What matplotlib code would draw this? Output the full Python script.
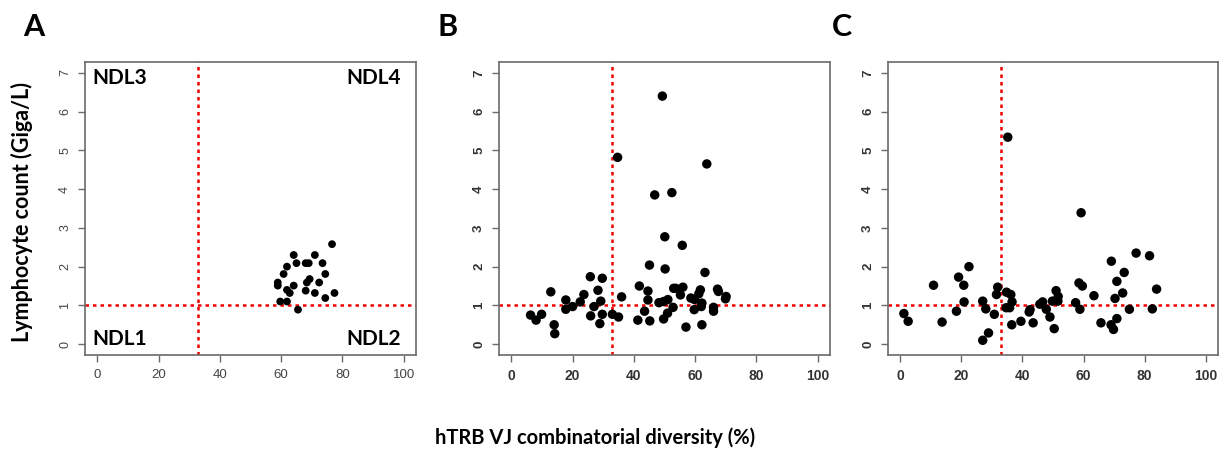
import matplotlib
matplotlib.use("Agg")
import matplotlib.pyplot as plt

# ---------------- data ----------------
a_x = [76.6, 64.1, 71.0, 61.9, 65.0, 68.0, 69.0, 73.5, 60.8, 74.4, 58.9, 58.9, 69.3,
       68.4, 64.1, 72.4, 61.9, 62.8, 68.0, 71.0, 77.4, 74.4, 59.7, 61.9, 65.5]
a_y = [2.58, 2.30, 2.30, 2.00, 2.09, 2.09, 2.09, 2.09, 1.81, 1.81, 1.59, 1.51, 1.68,
       1.59, 1.51, 1.59, 1.40, 1.32, 1.38, 1.32, 1.32, 1.19, 1.10, 1.10, 0.89]

b_x = [6.3, 8.1, 9.9, 12.9, 14.0, 14.2, 17.8, 17.8, 20.0, 22.5, 23.7, 25.8, 25.9, 27.0,
       28.3, 29.2, 29.7, 28.9, 29.7, 33.0, 34.7, 35.0, 36.0, 41.3, 41.8, 43.5, 44.6,
       44.6, 45.1, 45.2, 46.8, 48.2, 49.3, 49.7, 50.1, 50.2, 49.7, 51.1, 51.0, 52.4,
       52.8, 53.0, 53.7, 55.2, 55.8, 56.0, 57.0, 58.6, 59.8, 59.7, 61.2, 61.7, 62.2,
       62.0, 62.2, 63.2, 63.8, 66.0, 66.0, 67.3, 67.6, 70.1, 69.9]
b_y = [0.75, 0.62, 0.77, 1.35, 0.50, 0.27, 1.14, 0.90, 0.97, 1.09, 1.28, 1.74, 0.73, 0.97,
       1.39, 1.11, 1.70, 0.53, 0.77, 0.77, 4.82, 0.70, 1.22, 0.62, 1.50, 0.85, 1.37,
       1.14, 2.04, 0.60, 3.85, 1.07, 6.40, 0.65, 2.77, 1.94, 1.10, 1.15, 0.80, 3.91,
       0.95, 1.44, 1.44, 1.27, 2.55, 1.47, 0.44, 1.19, 1.15, 0.89, 1.30, 1.40, 1.06,
       0.97, 0.50, 1.85, 4.65, 0.95, 0.85, 1.42, 1.36, 1.23, 1.17]

c_x = [1.2, 2.6, 10.9, 13.7, 18.4, 19.1, 20.8, 20.9, 22.5, 27.0, 27.0, 28.0, 28.9, 30.8,
       31.5, 31.9, 35.2, 34.8, 34.7, 35.8, 36.2, 36.6, 36.5, 39.5, 42.2, 42.5, 43.5,
       45.7, 46.6, 47.8, 49.0, 49.8, 50.4, 51.0, 51.7, 51.6, 57.4, 58.5, 58.8, 59.6,
       59.2, 63.4, 65.7, 69.0, 69.1, 69.8, 70.3, 70.9, 70.9, 72.8, 73.3, 75.0, 77.2,
       81.6, 82.5, 83.9]
c_y = [0.79, 0.59, 1.52, 0.57, 0.85, 1.73, 1.52, 1.09, 2.00, 1.11, 0.10, 0.91, 0.29, 0.77,
       1.28, 1.47, 5.34, 1.34, 0.94, 0.94, 1.28, 1.09, 0.50, 0.59, 0.83, 0.89, 0.55,
       1.03, 1.09, 0.90, 0.70, 1.11, 0.40, 1.38, 1.23, 1.11, 1.07, 1.58, 0.90, 1.50,
       3.39, 1.25, 0.55, 0.50, 2.14, 0.38, 1.18, 1.62, 0.66, 1.32, 1.85, 0.90, 2.35,
       2.28, 0.91, 1.42]

x_ticks = [0, 20, 40, 60, 80, 100]
y_ticks = [0, 1, 2, 3, 4, 5, 6, 7]
x_threshold = 33
y_threshold = 1
panel_letters = ["A", "B", "C"]
quadrant_labels = ["NDL3", "NDL4", "NDL1", "NDL2"]
x_label = "hTRB VJ combinatorial diversity (%)"
y_label = "Lymphocyte count (Giga/L)"

# ---------------- figure ----------------
W, H = 1225, 450
fig = plt.figure(figsize=(W / 100, H / 100), dpi=100)

def frac_box(l, r, t, b):
    return [l / W, 1 - b / H, (r - l) / W, (b - t) / H]

boxes = [frac_box(85, 416, 62, 355), frac_box(499, 830, 62, 355), frac_box(888, 1218, 62, 355)]
datasets = [(a_x, a_y), (b_x, b_y), (c_x, c_y)]
msizes = [5.6, 6.8, 6.8]
letter_pos = [(34, 27), (448, 27), (842, 27)]
spine_col = "#6a6a6a"

for i, (box, (xs, ys)) in enumerate(zip(boxes, datasets)):
    ax = fig.add_axes(box)
    ax.set_xlim(-4, 104)
    ax.set_ylim(-0.28, 7.28)
    ax.axvline(x_threshold, color="#ee0000", lw=1.8, ls=(0, (1.4, 1.6)), zorder=1)
    ax.axhline(y_threshold, color="#ee0000", lw=1.8, ls=(0, (1.4, 1.6)), zorder=1)
    ax.scatter(xs, ys, s=msizes[i] ** 2, color="black", edgecolors="none", zorder=3)
    ax.set_xticks(x_ticks)
    ax.set_yticks(y_ticks)
    for sp in ax.spines.values():
        sp.set_color(spine_col)
        sp.set_linewidth(1.2)
    ax.tick_params(direction="out", length=5, width=1, color=spine_col)
    if i == 0:
        fw, fc, fs = "normal", "#444444", 9.5
    else:
        fw, fc, fs = "bold", "#333333", 10
    ax.set_xticklabels([str(t) for t in x_ticks], fontfamily="Liberation Sans",
                       fontweight=fw, color=fc, fontsize=fs)
    ax.set_yticklabels([str(t) for t in y_ticks], fontfamily="Liberation Sans",
                       fontweight=fw, color=fc, fontsize=fs - 0.5, rotation=90, va="center")
    ax.tick_params(axis="x", pad=5)
    ax.tick_params(axis="y", pad=5)
    if i == 0:
        kw = dict(fontfamily="Lato", fontweight="bold", fontsize=15, color="black")
        ax.text(-1.5, 7.12, quadrant_labels[0], ha="left", va="top", **kw)
        ax.text(99.0, 7.12, quadrant_labels[1], ha="right", va="top", **kw)
        ax.text(-1.5, -0.12, quadrant_labels[2], ha="left", va="bottom", **kw)
        ax.text(99.0, -0.12, quadrant_labels[3], ha="right", va="bottom", **kw)
    lx, ly = letter_pos[i]
    fig.text(lx / W, 1 - ly / H, panel_letters[i], ha="center", va="center",
             fontfamily="Lato", fontweight="bold", fontsize=22)

fig.text(595 / W, 1 - 438 / H, x_label, ha="center", va="center",
         fontfamily="Lato", fontweight="bold", fontsize=14.5)
fig.text(22 / W, 1 - 212 / H, y_label, ha="center", va="center", rotation=90,
         fontfamily="Lato", fontweight="bold", fontsize=15.5)

fig.savefig("out.png", dpi=100, facecolor="white")
